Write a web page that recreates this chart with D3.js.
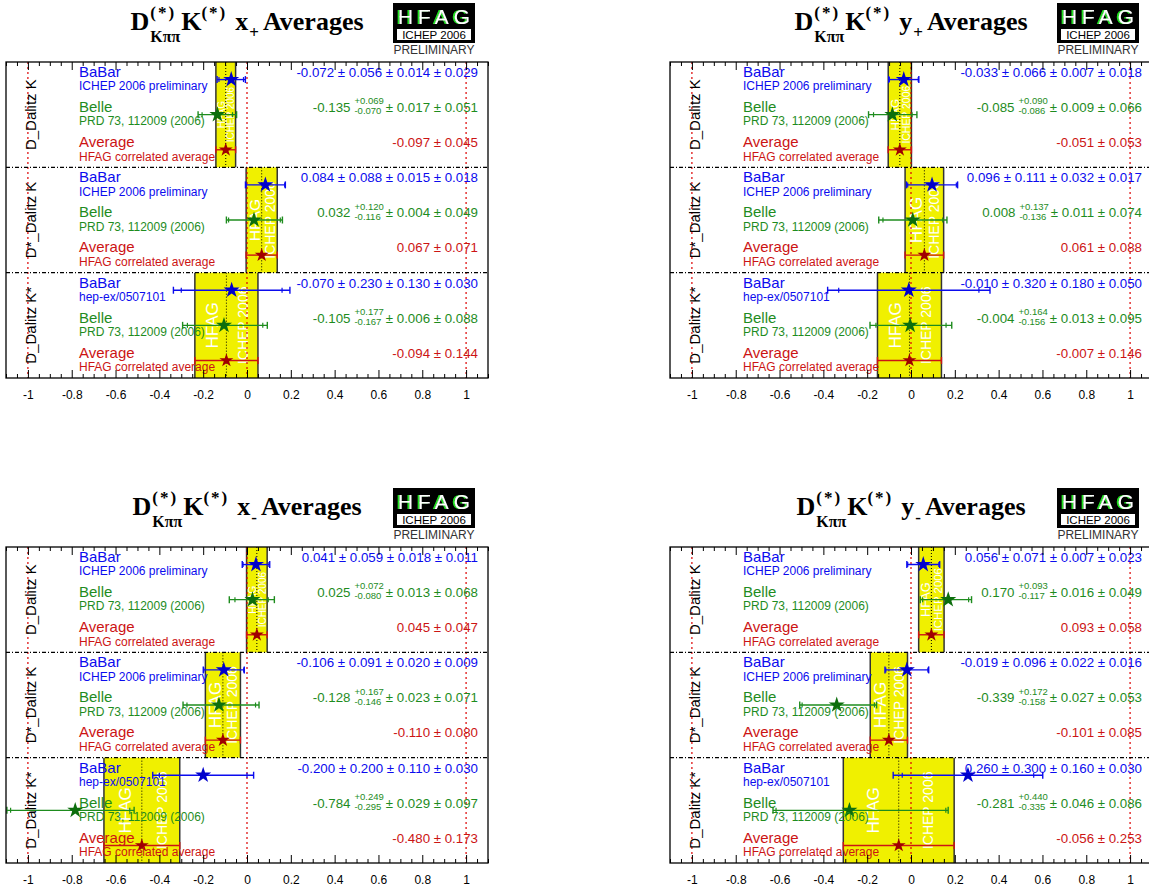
<!DOCTYPE html>
<html><head><meta charset="utf-8">
<script src="https://cdn.jsdelivr.net/npm/d3@7"></script>
<style>body{margin:0;background:#fff} svg{display:block}</style>
</head><body>
<svg id="c" width="1149" height="886">
  <defs>
    <filter id="hfagShadow" x="-10%" y="-10%" width="120%" height="120%">
      <feOffset in="SourceAlpha" dx="-1.6" dy="0" result="o"/>
      <feFlood flood-color="#22e022"/>
      <feComposite in2="o" operator="in" result="s"/>
      <feMerge><feMergeNode in="s"/><feMergeNode in="SourceGraphic"/></feMerge>
    </filter>
  </defs>
</svg>
<script>
// ---------------- data ----------------
const xDomain = [-1.1, 1.1];
const xTicks = [-1, -0.8, -0.6, -0.4, -0.2, 0, 0.2, 0.4, 0.6, 0.8, 1];
const refLines = [-1, 0, 1];
const sectionLabels = ["D_Dalitz K", "D*_Dalitz K", "D_Dalitz K*"];
const experiments = ["BaBar", "Belle", "Average"];
const references = [
  ["ICHEP 2006 preliminary", "PRD 73, 112009 (2006)", "HFAG correlated average"],
  ["ICHEP 2006 preliminary", "PRD 73, 112009 (2006)", "HFAG correlated average"],
  ["hep-ex/0507101", "PRD 73, 112009 (2006)", "HFAG correlated average"]
];
const panelVars = ["x", "y", "x", "y"];
const panelSigns = ["+", "+", "-", "-"];

// BaBar: [value, stat, syst, model]
// Belle: [value, stat+, stat-, syst, model]
// Average: [value, error]
const babarXplus = [[-0.072, 0.056, 0.014, 0.029], [0.084, 0.088, 0.015, 0.018], [-0.070, 0.230, 0.130, 0.030]];
const belleXplus = [[-0.135, 0.069, 0.070, 0.017, 0.051], [0.032, 0.120, 0.116, 0.004, 0.049], [-0.105, 0.177, 0.167, 0.006, 0.088]];
const avgXplus = [[-0.097, 0.045], [0.067, 0.071], [-0.094, 0.144]];

const babarYplus = [[-0.033, 0.066, 0.007, 0.018], [0.096, 0.111, 0.032, 0.017], [-0.010, 0.320, 0.180, 0.050]];
const belleYplus = [[-0.085, 0.090, 0.086, 0.009, 0.066], [0.008, 0.137, 0.136, 0.011, 0.074], [-0.004, 0.164, 0.156, 0.013, 0.095]];
const avgYplus = [[-0.051, 0.053], [0.061, 0.088], [-0.007, 0.146]];

const babarXminus = [[0.041, 0.059, 0.018, 0.011], [-0.106, 0.091, 0.020, 0.009], [-0.200, 0.200, 0.110, 0.030]];
const belleXminus = [[0.025, 0.072, 0.080, 0.013, 0.068], [-0.128, 0.167, 0.146, 0.023, 0.071], [-0.784, 0.249, 0.295, 0.029, 0.097]];
const avgXminus = [[0.045, 0.047], [-0.110, 0.080], [-0.480, 0.173]];

const babarYminus = [[0.056, 0.071, 0.007, 0.023], [-0.019, 0.096, 0.022, 0.016], [0.260, 0.300, 0.160, 0.030]];
const belleYminus = [[0.170, 0.093, 0.117, 0.016, 0.049], [-0.339, 0.172, 0.158, 0.027, 0.053], [-0.281, 0.440, 0.335, 0.046, 0.086]];
const avgYminus = [[0.093, 0.058], [-0.101, 0.085], [-0.056, 0.253]];

const panelBabar = [babarXplus, babarYplus, babarXminus, babarYminus];
const panelBelle = [belleXplus, belleYplus, belleXminus, belleYminus];
const panelAvg = [avgXplus, avgYplus, avgXminus, avgYminus];

// ---------------- style ----------------
const SANS = "'Liberation Sans', Arial, Helvetica, sans-serif";
const SERIF = "'Liberation Serif', 'Times New Roman', serif";
const colText = {BaBar: "#0b0bee", Belle: "#1e8c1e", Average: "#cc1414"};
const colStar = {BaBar: "#0000cc", Belle: "#0d6e0d", Average: "#a00000"};
const W = 482, H = 316;

const svg = d3.select("#c");
const fmt = v => v.toFixed(3);

function drawTitle(g, cx, baseY, v, sign) {
  const tg = g.append("g").attr("font-family", SERIF).attr("font-weight", "bold").attr("fill", "#000");
  let cur = 0;
  function put(str, size, dy, ls) {
    const el = tg.append("text").attr("x", cur).attr("y", dy).style("font-size", size + "px").text(str);
    if (ls) el.style("letter-spacing", ls + "px");
    return el.node().getComputedTextLength();
  }
  cur += put("D", 26, 0) + 1;
  const w1 = put("(*)", 17, -12, 2);
  const w2 = put("K\u03c0\u03c0", 16, 12);
  cur += Math.max(w1, w2) + 1;
  cur += put("K", 26, 0);
  cur += put("(*)", 17, -12, 2) + 8;
  cur += put(v, 26, 0) + 1;
  cur += put(sign, 17, 8) + 4;
  cur += put("Averages", 26, 0);
  tg.attr("transform", `translate(${cx - cur / 2},${baseY})`);
}

function drawLogo(g, x0, y0) {
  g.append("rect").attr("x", x0).attr("y", y0).attr("width", 82).attr("height", 40).attr("fill", "#000");
  g.append("text").attr("x", x0 + 5).attr("y", y0 + 20.5).attr("textLength", 72).attr("lengthAdjust", "spacing")
    .attr("filter", "url(#hfagShadow)")
    .style("font-family", SANS).style("font-size", "21px").attr("fill", "#fff").text("HFAG");
  g.append("rect").attr("x", x0 + 4).attr("y", y0 + 26).attr("width", 74).attr("height", 11).attr("fill", "#fff");
  g.append("text").attr("x", x0 + 41).attr("y", y0 + 35.8).attr("text-anchor", "middle")
    .style("font-family", SANS).style("font-size", "11.5px").attr("fill", "#000").text("ICHEP 2006");
  g.append("text").attr("x", x0 + 41).attr("y", y0 + 51).attr("text-anchor", "middle")
    .style("font-family", SANS).style("font-size", "12px").attr("fill", "#333").text("PRELIMINARY");
}

function errBar(g, x, y, v, lo, hi, loIn, hiIn, color) {
  g.append("line").attr("x1", x(v - lo)).attr("x2", x(v + hi)).attr("y1", y).attr("y2", y)
    .attr("stroke", color).attr("stroke-width", 1.4);
  [v - lo, v + hi].forEach(e => g.append("line").attr("x1", x(e)).attr("x2", x(e)).attr("y1", y - 3.5).attr("y2", y + 3.5)
    .attr("stroke", color).attr("stroke-width", 1.4));
  if (loIn != null) [v - loIn, v + hiIn].forEach(e => g.append("line").attr("x1", x(e)).attr("x2", x(e)).attr("y1", y - 2.5).attr("y2", y + 2.5)
    .attr("stroke", color).attr("stroke-width", 1.2));
}

function drawPanel(i) {
  const col = i % 2, row = Math.floor(i / 2);
  const left = 6 + col * 664, oy = row * 485;
  const top = oy + 62, bottom = top + H;
  const g = svg.append("g");
  const x = d3.scaleLinear().domain(xDomain).range([left, left + W]);
  const ySec = d3.scaleBand().domain(d3.range(sectionLabels.length)).range([top, bottom]);
  const sh = ySec.bandwidth();
  const yRow = d3.scaleBand().domain(experiments).range([0, sh]);

  drawTitle(g, left + W / 2, oy + 30, panelVars[i], panelSigns[i]);
  drawLogo(g, left + 387, oy + 3);

  g.append("rect").attr("x", left).attr("y", top).attr("width", W).attr("height", H).attr("fill", "#fff");

  const babar = panelBabar[i], belle = panelBelle[i], avg = panelAvg[i];

  // yellow bands
  avg.forEach(([a, e], s) => {
    const x0 = x(a - e), x1 = x(a + e), st = ySec(s), bw = x1 - x0;
    g.append("rect").attr("x", x0).attr("y", st).attr("width", bw).attr("height", sh).attr("fill", "#f0f000");
    const id = `clip${i}_${s}`;
    g.append("clipPath").attr("id", id).append("rect").attr("x", x0).attr("y", st).attr("width", bw).attr("height", sh);
    const tg = g.append("g").attr("clip-path", `url(#${id})`).attr("fill", "#fff").style("font-family", SANS);
    const fsH = Math.max(10, Math.min(17, bw * 0.5));
    const fsI = Math.max(10, Math.min(14, bw * 0.45));
    const cy = st + sh / 2;
    tg.append("text").attr("transform", `translate(${x0 + 0.27 * bw + 0.36 * fsH},${cy}) rotate(-90)`)
      .attr("text-anchor", "middle").style("font-size", fsH + "px").text("HFAG");
    tg.append("text").attr("transform", `translate(${x0 + 0.76 * bw + 0.36 * fsI},${cy}) rotate(-90)`)
      .attr("text-anchor", "middle").style("font-size", fsI + "px").text("ICHEP 2006");
    [x0, x1].forEach(xe => g.append("line").attr("x1", xe).attr("x2", xe).attr("y1", st).attr("y2", st + sh)
      .attr("stroke", "#333").attr("stroke-width", 1.5));
  });

  // red reference lines
  refLines.forEach(r => g.append("line").attr("x1", x(r)).attr("x2", x(r)).attr("y1", top).attr("y2", bottom)
    .attr("stroke", "#dd0000").attr("stroke-width", 1.2).attr("stroke-dasharray", "2,3"));

  // black dotted average lines
  avg.forEach(([a], s) => g.append("line").attr("x1", x(a)).attr("x2", x(a)).attr("y1", ySec(s)).attr("y2", ySec(s) + sh)
    .attr("stroke", "#000").attr("stroke-width", 1).attr("stroke-dasharray", "1,2"));

  // separators
  d3.range(1, sectionLabels.length).forEach(s => g.append("line").attr("x1", left).attr("x2", left + W)
    .attr("y1", ySec(s)).attr("y2", ySec(s)).attr("stroke", "#000").attr("stroke-width", 1.3).attr("stroke-dasharray", "4,2,1,2"));

  const star = d3.symbol().type(d3.symbolStar);

  sectionLabels.forEach((lab, s) => {
    const st = ySec(s);
    g.append("text").attr("transform", `translate(${left + 30},${st + sh / 2}) rotate(-90)`).attr("text-anchor", "middle")
      .style("font-family", SANS).style("font-size", "15px").attr("fill", "#000").text(lab);

    experiments.forEach((ex, k) => {
      const yc = st + yRow(ex) + yRow.bandwidth() / 2;
      const c = colText[ex];
      let v;
      if (ex === "BaBar") {
        const [val, stt, sy, mo] = babar[s];
        const tot = Math.sqrt(stt * stt + sy * sy + mo * mo);
        errBar(g, x, yc, val, tot, tot, stt, stt, c);
        v = val;
      } else if (ex === "Belle") {
        const [val, sp, sm, sy, mo] = belle[s];
        const tp = Math.sqrt(sp * sp + sy * sy + mo * mo), tm = Math.sqrt(sm * sm + sy * sy + mo * mo);
        errBar(g, x, yc, val, tm, tp, sm, sp, c);
        v = val;
      } else {
        const [val, e] = avg[s];
        errBar(g, x, yc, val, e, e, null, null, c);
        v = val;
      }
      g.append("path").attr("d", star.size(ex === "Average" ? 60 : 80)()).attr("transform", `translate(${x(v)},${yc})`)
        .attr("fill", colStar[ex]);

      g.append("text").attr("x", left + 73).attr("y", yc - 2.7).style("font-family", SANS).style("font-size", "15px")
        .attr("fill", c).text(ex);
      g.append("text").attr("x", left + 73).attr("y", yc + 10.8).style("font-family", SANS).style("font-size", "12px")
        .attr("fill", c).text(references[s][k]);

      const rx = left + 472, by = yc - 2.7;
      const vt = g.append("g").style("font-family", SANS).attr("fill", c);
      if (ex === "BaBar") {
        const [val, stt, sy, mo] = babar[s];
        vt.append("text").attr("x", rx).attr("y", by).attr("text-anchor", "end").style("font-size", "13.3px")
          .text(`${fmt(val)} \u00b1 ${fmt(stt)} \u00b1 ${fmt(sy)} \u00b1 ${fmt(mo)}`);
      } else if (ex === "Belle") {
        const [val, sp, sm, sy, mo] = belle[s];
        const tail = vt.append("text").attr("x", rx).attr("y", by).attr("text-anchor", "end").style("font-size", "13.3px")
          .text(`\u00b1 ${fmt(sy)} \u00b1 ${fmt(mo)}`);
        const tw = tail.node().getComputedTextLength();
        const sup = vt.append("text").attr("y", by - 7.5).style("font-size", "9.5px").text("+" + fmt(sp));
        const sub = vt.append("text").attr("y", by + 2.5).style("font-size", "9.5px").text("-" + fmt(sm));
        const sw = Math.max(sup.node().getComputedTextLength(), sub.node().getComputedTextLength());
        const sx = rx - tw - 2 - sw;
        sup.attr("x", sx); sub.attr("x", sx);
        vt.append("text").attr("x", sx - 4).attr("y", by).attr("text-anchor", "end").style("font-size", "13.3px").text(fmt(val));
      } else {
        const [val, e] = avg[s];
        vt.append("text").attr("x", rx).attr("y", by).attr("text-anchor", "end").style("font-size", "13.3px")
          .text(`${fmt(val)} \u00b1 ${fmt(e)}`);
      }
    });
  });

  // axes
  const minor = x.ticks(44).filter(t => !xTicks.some(m => Math.abs(m - t) < 1e-6));
  const axB = d3.axisBottom(x).tickValues(xTicks).tickSize(-8).tickPadding(12).tickFormat(d => String(d));
  const axBm = d3.axisBottom(x).tickValues(minor).tickSize(-4).tickFormat("");
  const axT = d3.axisTop(x).tickValues(xTicks).tickSize(-8).tickFormat("");
  const axTm = d3.axisTop(x).tickValues(minor).tickSize(-4).tickFormat("");
  [[axB, bottom], [axBm, bottom], [axT, top], [axTm, top]].forEach(([ax, yy]) => {
    const a = g.append("g").attr("transform", `translate(0,${yy})`).call(ax);
    a.select(".domain").remove();
    a.selectAll("line").attr("stroke", "#000").attr("stroke-width", 1);
    a.selectAll("text").style("font-family", SANS).style("font-size", "12px").attr("fill", "#000");
  });

  g.append("rect").attr("x", left).attr("y", top).attr("width", W).attr("height", H)
    .attr("fill", "none").attr("stroke", "#000").attr("stroke-width", 1.3);
}

d3.range(4).forEach(drawPanel);
</script>
</body></html>
